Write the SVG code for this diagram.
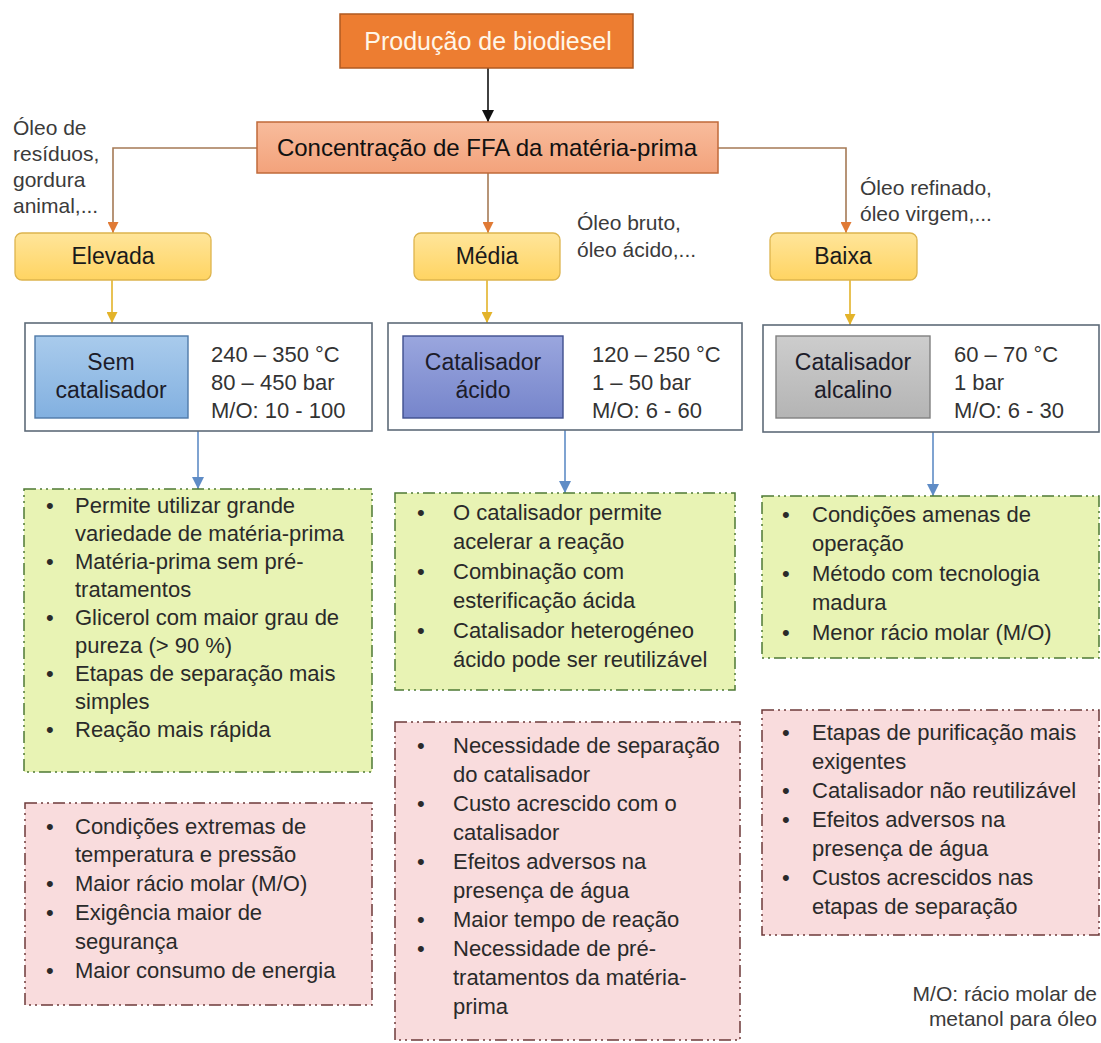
<svg xmlns="http://www.w3.org/2000/svg" width="1101" height="1043" viewBox="0 0 1101 1043">
  <defs>
    <style>
      text { font-family: "Liberation Sans", Arial, sans-serif; }
      .title { font-size: 25px; fill: #FFF6E8; text-anchor: middle; }
      .head { font-size: 24px; fill: #111; text-anchor: middle; }
      .cat { font-size: 23px; fill: #1a1a1a; text-anchor: middle; }
      .cat-in { font-size: 23px; fill: #1c1c2a; text-anchor: middle; }
      .param { font-size: 22px; fill: #333; }
      .note { font-size: 21px; fill: #3b3b3b; }
      .li { font-size: 22px; fill: #2a2a2a; }
      .outer { fill: #fff; stroke: #5E6B78; stroke-width: 1.6; }
      .pro { fill: #E8F3B4; stroke: #4E7A35; stroke-width: 1.5; stroke-dasharray: 12 4 2 4 2 4; }
      .con { fill: #F9DCDD; stroke: #6E3A3A; stroke-width: 1.5; stroke-dasharray: 12 4 2 4 2 4; }
      .cn-black { fill: none; stroke: #111; stroke-width: 1.6; }
      .cn-brown { fill: none; stroke: #A57A55; stroke-width: 1.6; }
      .cn-yellow { fill: none; stroke: #E3B32A; stroke-width: 1.6; }
      .cn-blue { fill: none; stroke: #5F8CC6; stroke-width: 1.6; }
    </style>
    <linearGradient id="gYellow" x1="0" y1="0" x2="0" y2="1">
      <stop offset="0" stop-color="#FFE59A"/>
      <stop offset="1" stop-color="#FFD462"/>
    </linearGradient>
    <linearGradient id="gSalmon" x1="0" y1="0" x2="0" y2="1">
      <stop offset="0" stop-color="#F8BC9C"/>
      <stop offset="1" stop-color="#F3A27B"/>
    </linearGradient>
    <linearGradient id="gBlue" x1="0" y1="0" x2="0" y2="1">
      <stop offset="0" stop-color="#A9CBEC"/>
      <stop offset="1" stop-color="#82B0E0"/>
    </linearGradient>
    <linearGradient id="gViolet" x1="0" y1="0" x2="0" y2="1">
      <stop offset="0" stop-color="#9AA6DE"/>
      <stop offset="1" stop-color="#7685CB"/>
    </linearGradient>
    <linearGradient id="gGray" x1="0" y1="0" x2="0" y2="1">
      <stop offset="0" stop-color="#CDCDCD"/>
      <stop offset="1" stop-color="#B4B4B4"/>
    </linearGradient>
    <marker id="ahBlack" viewBox="0 0 10 10" refX="10" refY="5" markerWidth="12" markerHeight="12" markerUnits="userSpaceOnUse" orient="auto">
      <path d="M0,0 L10,5 L0,10 Z" fill="#111"/>
    </marker>
    <marker id="ahOrange" viewBox="0 0 10 10" refX="10" refY="5" markerWidth="11" markerHeight="11" markerUnits="userSpaceOnUse" orient="auto">
      <path d="M0,0 L10,5 L0,10 Z" fill="#E07A35"/>
    </marker>
    <marker id="ahYellow" viewBox="0 0 10 10" refX="10" refY="5" markerWidth="11" markerHeight="11" markerUnits="userSpaceOnUse" orient="auto">
      <path d="M0,0 L10,5 L0,10 Z" fill="#E3B32A"/>
    </marker>
    <marker id="ahBlue" viewBox="0 0 10 10" refX="10" refY="5" markerWidth="12" markerHeight="12" markerUnits="userSpaceOnUse" orient="auto">
      <path d="M0,0 L10,5 L0,10 Z" fill="#5F8CC6"/>
    </marker>
  </defs>

  <rect width="1101" height="1043" fill="#fff"/>

  <!-- connectors -->
  <g id="connectors">
    <path class="cn-black" d="M488,68 V122" marker-end="url(#ahBlack)"/>
    <path class="cn-brown" d="M257,148 H113 V233" marker-end="url(#ahOrange)"/>
    <path class="cn-brown" d="M488,173 V233" marker-end="url(#ahOrange)"/>
    <path class="cn-brown" d="M718,148 H846 V233" marker-end="url(#ahOrange)"/>
    <path class="cn-yellow" d="M112,280 V323" marker-end="url(#ahYellow)"/>
    <path class="cn-yellow" d="M487,280 V323" marker-end="url(#ahYellow)"/>
    <path class="cn-yellow" d="M850,280 V325" marker-end="url(#ahYellow)"/>
    <path class="cn-blue" d="M198,431 V489" marker-end="url(#ahBlue)"/>
    <path class="cn-blue" d="M565,430 V493" marker-end="url(#ahBlue)"/>
    <path class="cn-blue" d="M933,432 V496" marker-end="url(#ahBlue)"/>
  </g>

  <!-- root -->
  <g id="producao">
    <rect x="340" y="14" width="293" height="54" fill="#ED7D31" stroke="#B05A20" stroke-width="1.5"/>
    <text class="title" x="488" y="50">Produção de biodiesel</text>
  </g>

  <g id="concentracao">
    <rect x="257" y="122" width="461" height="51" fill="url(#gSalmon)" stroke="#C06A3A" stroke-width="1.5"/>
    <text class="head" x="487" y="156">Concentração de  FFA da matéria-prima</text>
  </g>

  <!-- feedstock notes -->
  <g id="nota-elevada">
    <text class="note" x="13" y="135">Óleo de</text>
    <text class="note" x="13" y="161">resíduos,</text>
    <text class="note" x="13" y="187">gordura</text>
    <text class="note" x="13" y="213">animal,...</text>
  </g>
  <g id="nota-media">
    <text class="note" x="577" y="230">Óleo bruto,</text>
    <text class="note" x="577" y="257">óleo ácido,...</text>
  </g>
  <g id="nota-baixa">
    <text class="note" x="860" y="195">Óleo refinado,</text>
    <text class="note" x="860" y="221">óleo virgem,...</text>
  </g>

  <!-- FFA levels -->
  <g id="elevada">
    <rect x="15" y="233" width="196" height="47" rx="7" fill="url(#gYellow)" stroke="#DDB44E" stroke-width="1.3"/>
    <text class="cat" x="113" y="264">Elevada</text>
  </g>
  <g id="media">
    <rect x="414" y="233" width="146" height="47" rx="7" fill="url(#gYellow)" stroke="#DDB44E" stroke-width="1.3"/>
    <text class="cat" x="487" y="264">Média</text>
  </g>
  <g id="baixa">
    <rect x="770" y="233" width="147" height="47" rx="7" fill="url(#gYellow)" stroke="#DDB44E" stroke-width="1.3"/>
    <text class="cat" x="843" y="264">Baixa</text>
  </g>

  <!-- process conditions -->
  <g id="sem-catalisador">
    <rect class="outer" x="25" y="323" width="347" height="108"/>
    <rect x="35" y="336" width="153" height="82" fill="url(#gBlue)" stroke="#4F79A8" stroke-width="1.4"/>
    <text class="cat-in" x="111" y="370">Sem</text>
    <text class="cat-in" x="111" y="398">catalisador</text>
    <text class="param" x="211" y="362">240 – 350 °C</text>
    <text class="param" x="211" y="390">80 – 450 bar</text>
    <text class="param" x="211" y="418">M/O: 10 - 100</text>
  </g>
  <g id="catalisador-acido">
    <rect class="outer" x="388" y="323" width="354" height="107"/>
    <rect x="403" y="336" width="160" height="82" fill="url(#gViolet)" stroke="#3F4F8E" stroke-width="1.4"/>
    <text class="cat-in" x="483" y="370">Catalisador</text>
    <text class="cat-in" x="483" y="398">ácido</text>
    <text class="param" x="592" y="362">120 – 250 °C</text>
    <text class="param" x="592" y="390">1 – 50 bar</text>
    <text class="param" x="592" y="418">M/O: 6 - 60</text>
  </g>
  <g id="catalisador-alcalino">
    <rect class="outer" x="763" y="325" width="336" height="107"/>
    <rect x="776" y="336" width="154" height="82" fill="url(#gGray)" stroke="#808080" stroke-width="1.4"/>
    <text class="cat-in" x="853" y="370">Catalisador</text>
    <text class="cat-in" x="853" y="398">alcalino</text>
    <text class="param" x="954" y="362">60 – 70 °C</text>
    <text class="param" x="954" y="390">1 bar</text>
    <text class="param" x="954" y="418">M/O: 6 - 30</text>
  </g>

  <!-- advantages -->
  <g id="vantagens-sem">
    <rect class="pro" x="24" y="489" width="348" height="283"/>
    <g class="li">
      <text x="46" y="513">•</text><text x="75" y="513">Permite utilizar grande</text>
      <text x="75" y="541">variedade de matéria-prima</text>
      <text x="46" y="569">•</text><text x="75" y="569">Matéria-prima sem pré-</text>
      <text x="75" y="597">tratamentos</text>
      <text x="46" y="625">•</text><text x="75" y="625">Glicerol com maior grau de</text>
      <text x="75" y="653">pureza (&gt; 90 %)</text>
      <text x="46" y="681">•</text><text x="75" y="681">Etapas de separação mais</text>
      <text x="75" y="709">simples</text>
      <text x="46" y="737">•</text><text x="75" y="737">Reação mais rápida</text>
    </g>
  </g>
  <g id="vantagens-acido">
    <rect class="pro" x="395" y="493" width="340" height="197"/>
    <g class="li">
      <text x="417" y="520">•</text><text x="453" y="520">O catalisador permite</text>
      <text x="453" y="549">acelerar a reação</text>
      <text x="417" y="579">•</text><text x="453" y="579">Combinação com</text>
      <text x="453" y="608">esterificação ácida</text>
      <text x="417" y="638">•</text><text x="453" y="638">Catalisador heterogéneo</text>
      <text x="453" y="667">ácido pode ser reutilizável</text>
    </g>
  </g>
  <g id="vantagens-alcalino">
    <rect class="pro" x="762" y="496" width="337" height="162"/>
    <g class="li">
      <text x="782" y="522">•</text><text x="812" y="522">Condições amenas de</text>
      <text x="812" y="551">operação</text>
      <text x="782" y="581">•</text><text x="812" y="581">Método com tecnologia</text>
      <text x="812" y="610">madura</text>
      <text x="782" y="640">•</text><text x="812" y="640">Menor rácio molar (M/O)</text>
    </g>
  </g>

  <!-- drawbacks -->
  <g id="desvantagens-sem">
    <rect class="con" x="25" y="803" width="347" height="202"/>
    <g class="li">
      <text x="46" y="834">•</text><text x="75" y="834">Condições extremas de</text>
      <text x="75" y="862">temperatura e pressão</text>
      <text x="46" y="891">•</text><text x="75" y="891">Maior rácio molar (M/O)</text>
      <text x="46" y="920">•</text><text x="75" y="920">Exigência maior de</text>
      <text x="75" y="949">segurança</text>
      <text x="46" y="978">•</text><text x="75" y="978">Maior consumo de energia</text>
    </g>
  </g>
  <g id="desvantagens-acido">
    <rect class="con" x="395" y="722" width="345" height="318"/>
    <g class="li">
      <text x="417" y="753">•</text><text x="453" y="753">Necessidade de separação</text>
      <text x="453" y="782">do catalisador</text>
      <text x="417" y="811">•</text><text x="453" y="811">Custo acrescido com o</text>
      <text x="453" y="840">catalisador</text>
      <text x="417" y="869">•</text><text x="453" y="869">Efeitos adversos na</text>
      <text x="453" y="898">presença de água</text>
      <text x="417" y="927">•</text><text x="453" y="927">Maior tempo de reação</text>
      <text x="417" y="956">•</text><text x="453" y="956">Necessidade de pré-</text>
      <text x="453" y="985">tratamentos da matéria-</text>
      <text x="453" y="1014">prima</text>
    </g>
  </g>
  <g id="desvantagens-alcalino">
    <rect class="con" x="762" y="710" width="337" height="225"/>
    <g class="li">
      <text x="782" y="740">•</text><text x="812" y="740">Etapas de purificação mais</text>
      <text x="812" y="769">exigentes</text>
      <text x="782" y="798">•</text><text x="812" y="798">Catalisador não reutilizável</text>
      <text x="782" y="827">•</text><text x="812" y="827">Efeitos adversos na</text>
      <text x="812" y="856">presença de água</text>
      <text x="782" y="885">•</text><text x="812" y="885">Custos acrescidos nas</text>
      <text x="812" y="914">etapas de separação</text>
    </g>
  </g>

  <!-- legend -->
  <g id="legenda">
    <text class="note" x="1097" y="1001" text-anchor="end">M/O: rácio molar de</text>
    <text class="note" x="1097" y="1026" text-anchor="end">metanol para óleo</text>
  </g>
</svg>
